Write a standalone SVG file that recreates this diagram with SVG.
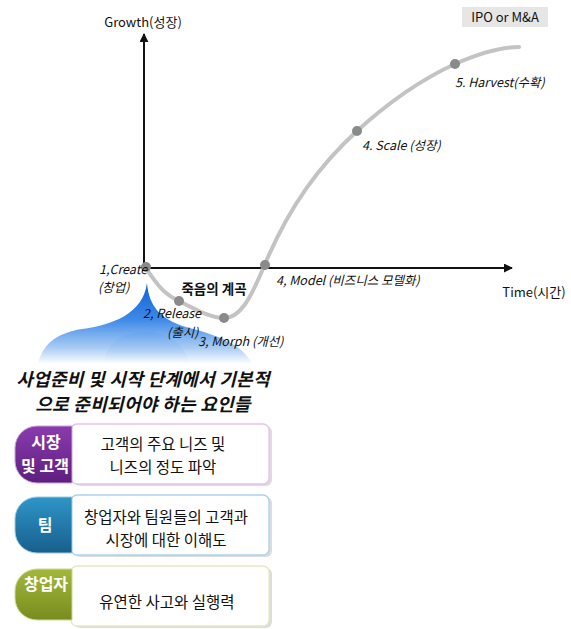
<svg xmlns="http://www.w3.org/2000/svg" width="571" height="629" viewBox="0 0 571 629">
  <defs>
    <style>
      .ax { stroke: #111; stroke-width: 2; fill: none; }
      .lbl { font-family: "Noto Sans CJK KR", "Noto Sans", sans-serif; font-size: 13px; fill: #111; }
      .stage { font-family: "Noto Sans CJK KR", "Noto Sans", sans-serif; font-size: 12.5px; font-style: italic; fill: #111; }
      .valley { font-family: "Noto Sans CJK KR", sans-serif; font-size: 13.5px; font-weight: bold; fill: #111; }
      .head { font-family: "Noto Sans CJK KR", sans-serif; font-size: 18px; font-weight: bold; font-style: italic; fill: #111; letter-spacing: 0.3px; }
      .body { font-family: "Noto Sans CJK KR", sans-serif; font-size: 15.5px; fill: #111; }
      .tabtxt { font-family: "Noto Sans CJK KR", sans-serif; font-size: 16px; font-weight: bold; fill: #fff; }
      .dot { fill: #8a8a8a; }
      .card { fill: #fff; stroke-width: 1.3; }
      .shadow { fill: #9a9a9a; opacity: 0.35; }
    </style>
    <marker id="arr" viewBox="0 0 10 10" refX="9" refY="5" markerWidth="4.5" markerHeight="4.5" orient="auto">
      <path d="M0,0 L10,5 L0,10 Z" fill="#111"/>
    </marker>
    <linearGradient id="splash" x1="0" y1="0" x2="0" y2="1">
      <stop offset="0" stop-color="#0d5fd8"/>
      <stop offset="0.45" stop-color="#3d8ae8"/>
      <stop offset="0.8" stop-color="#a9ccf4"/>
      <stop offset="1" stop-color="#ffffff"/>
    </linearGradient>
    <linearGradient id="lobe" x1="0" y1="0" x2="0" y2="1">
      <stop offset="0" stop-color="#5d9ff0"/>
      <stop offset="0.6" stop-color="#a8cbf3"/>
      <stop offset="1" stop-color="#ffffff"/>
    </linearGradient>
    <linearGradient id="gPurple" x1="0" y1="0" x2="0" y2="1">
      <stop offset="0" stop-color="#8a3cae"/>
      <stop offset="1" stop-color="#5d1f7e"/>
    </linearGradient>
    <linearGradient id="gBlue" x1="0" y1="0" x2="0" y2="1">
      <stop offset="0" stop-color="#2f95c8"/>
      <stop offset="1" stop-color="#175f8d"/>
    </linearGradient>
    <linearGradient id="gGreen" x1="0" y1="0" x2="0" y2="1">
      <stop offset="0" stop-color="#a3b83a"/>
      <stop offset="1" stop-color="#788c1f"/>
    </linearGradient>
  </defs>

  <rect width="571" height="629" fill="#fff"/>

  <!-- launch splash under the origin -->
  <g id="splash">
    <path d="M147,283 C149,306 160,319 186,327 C216,335 242,343 252,364 L38,364 C42,346 55,333 82,329 C112,325 143,314 147,283 Z" fill="url(#splash)"/>
    <path d="M104,364 C106,344 118,334 142,332 C166,331 184,342 190,364 Z" fill="url(#lobe)" opacity="0.55"/>
  </g>

  <!-- growth curve and axes -->
  <g id="connectors">
    <line class="ax" x1="144" y1="268" x2="144" y2="34" marker-end="url(#arr)"/>
    <line class="ax" x1="144" y1="268" x2="512" y2="268" marker-end="url(#arr)"/>
    <path d="M146,268 C160,290 168,296 179,301 C195,309 210,318 224,318 C240,318 250,300 265,264 C290,205 320,165 357,131 C390,101 420,80 455,64 C480,53 500,47 519,47" fill="none" stroke="#c3c3c3" stroke-width="4" stroke-linecap="round"/>
  </g>

  <g id="axis-labels">
    <text class="lbl" x="143" y="27" text-anchor="middle">Growth(성장)</text>
    <text class="lbl" x="534" y="297" text-anchor="middle">Time(시간)</text>
  </g>

  <g id="exit">
    <rect x="462" y="7" width="86" height="20" fill="#e6e6e6"/>
    <text class="lbl" x="505" y="22" text-anchor="middle" font-size="12">IPO or M&amp;A</text>
  </g>

  <g id="stage-create">
    <circle class="dot" cx="146" cy="267" r="5"/>
    <text class="stage" x="99" y="274">1,Create</text>
    <text class="stage" x="98" y="292">(창업)</text>
  </g>
  <g id="stage-release">
    <circle class="dot" cx="179" cy="301" r="5"/>
    <text class="stage" x="143" y="318">2, Release</text>
    <text class="stage" x="167" y="337">(출시)</text>
  </g>
  <g id="stage-morph">
    <circle class="dot" cx="224" cy="318" r="5"/>
    <text class="stage" x="198" y="346">3, Morph (개선)</text>
  </g>
  <g id="stage-model">
    <circle class="dot" cx="265" cy="265" r="5"/>
    <text class="stage" x="276" y="285">4, Model (비즈니스 모델화)</text>
  </g>
  <g id="stage-scale">
    <circle class="dot" cx="357" cy="131" r="5"/>
    <text class="stage" x="362" y="150">4. Scale (성장)</text>
  </g>
  <g id="stage-harvest">
    <circle class="dot" cx="455" cy="64" r="5"/>
    <text class="stage" x="455" y="87">5. Harvest(수확)</text>
  </g>
  <g id="valley">
    <text class="valley" x="214" y="294" text-anchor="middle">죽음의 계곡</text>
  </g>

  <g id="heading">
    <text class="head" x="143" y="386" text-anchor="middle">사업준비 및 시작 단계에서 기본적</text>
    <text class="head" x="143" y="411" text-anchor="middle">으로 준비되어야 하는 요인들</text>
  </g>

  <!-- factor cards -->
  <g id="card-market">
    <rect class="shadow" x="74" y="426" width="198" height="60" rx="6"/>
    <rect class="card" x="71" y="424" width="198" height="60" rx="6" stroke="#e4c3ec"/>
    <path d="M72,426 L37,426 A22,22 0 0 0 15,448 L15,461 A22,22 0 0 0 37,483 L72,483 Z" fill="url(#gPurple)" stroke="#c9a4d9" stroke-width="1"/>
    <text class="tabtxt" x="46" y="448" text-anchor="middle">시장</text>
    <text class="tabtxt" x="45" y="472" text-anchor="middle">및 고객</text>
    <text class="body" x="163" y="450" text-anchor="middle">고객의 주요 니즈 및</text>
    <text class="body" x="163" y="473" text-anchor="middle">니즈의 정도 파악</text>
  </g>
  <g id="card-team">
    <rect class="shadow" x="74" y="497" width="198" height="60" rx="6"/>
    <rect class="card" x="71" y="495" width="198" height="60" rx="6" stroke="#a9d3ea"/>
    <path d="M72,497 L37,497 A22,22 0 0 0 15,519 L15,531 A22,22 0 0 0 37,553 L72,553 Z" fill="url(#gBlue)" stroke="#9cc9e2" stroke-width="1"/>
    <text class="tabtxt" x="45" y="531" text-anchor="middle">팀</text>
    <text class="body" x="166" y="523" text-anchor="middle">창업자와 팀원들의 고객과</text>
    <text class="body" x="166" y="546" text-anchor="middle">시장에 대한 이해도</text>
  </g>
  <g id="card-founder">
    <rect class="shadow" x="74" y="568" width="198" height="60" rx="6"/>
    <rect class="card" x="71" y="566" width="198" height="60" rx="6" stroke="#e9e8c2"/>
    <path d="M72,569 L37,569 A22,22 0 0 0 15,591 L15,598 A22,22 0 0 0 37,620 L72,620 Z" fill="url(#gGreen)" stroke="#cdd7a0" stroke-width="1"/>
    <text class="tabtxt" x="46" y="590" text-anchor="middle" font-size="16.5">창업자</text>
    <text class="body" x="167" y="608" text-anchor="middle">유연한 사고와 실행력</text>
  </g>
</svg>
